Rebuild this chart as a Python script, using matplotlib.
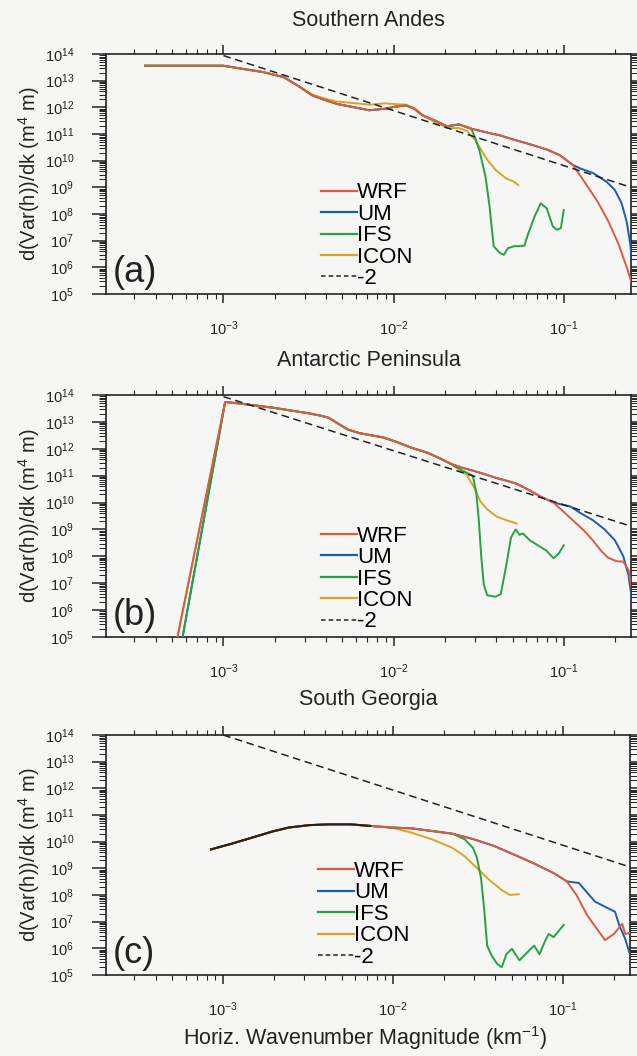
import numpy as np
import matplotlib
matplotlib.use('Agg')
import matplotlib.pyplot as plt
from matplotlib.lines import Line2D
from matplotlib.ticker import LogLocator, NullFormatter

plt.rcParams['font.family'] = ['Liberation Sans', 'DejaVu Sans']
plt.rcParams['mathtext.fontset'] = 'custom'
plt.rcParams['mathtext.rm'] = 'Liberation Sans'
plt.rcParams['mathtext.it'] = 'Liberation Sans:italic'
plt.rcParams['mathtext.bf'] = 'Liberation Sans:bold'

models = ['WRF', 'UM', 'IFS', 'ICON']
colors = {'WRF': '#dc5a45', 'UM': '#1d5caf', 'IFS': '#27a046', 'ICON': '#d8a42a'}

# all values are log10: wavenumber k (km^-1) and d(Var(h))/dk (m^4 m)

# (a) Southern Andes
a_shared_k = [-3.46, -3.0, -2.885, -2.765, -2.645, -2.55, -2.478, -2.406, -2.334,
              -2.238, -2.143, -2.047, -1.987, -1.927, -1.879, -1.831, -1.759,
              -1.687, -1.615, -1.544]
a_shared_s = [13.56, 13.56, 13.44, 13.32, 13.13, 12.76, 12.45, 12.28, 12.13,
              12.01, 11.89, 11.95, 12.03, 12.07, 11.95, 11.70, 11.51,
              11.29, 11.36, 11.20]
a_hires_k = [-1.448, -1.376, -1.30, -1.18, -1.10, -1.024, -0.947]
a_hires_s = [11.05, 10.95, 10.80, 10.58, 10.42, 10.21, 9.84]
a_wrf_k = [-0.918, -0.859, -0.80, -0.74, -0.68, -0.63, -0.59]
a_wrf_s = [9.58, 9.02, 8.45, 7.75, 6.9, 6.0, 5.2]
a_um_k = [-0.90, -0.829, -0.747, -0.70, -0.66, -0.63, -0.61, -0.595, -0.585]
a_um_s = [9.70, 9.54, 9.2, 8.9, 8.4, 7.7, 6.9, 6.0, 5.0]
a_ifs_k = [-1.52, -1.496, -1.46, -1.436, -1.412, -1.376, -1.352, -1.328, -1.292,
           -1.256, -1.232, -1.208, -1.172, -1.136, -1.10, -1.064, -1.04, -1.017, -1.0]
a_ifs_s = [10.85, 10.39, 9.4, 8.28, 6.79, 6.54, 6.47, 6.72, 6.79,
           6.80, 6.81, 7.28, 7.9, 8.4, 8.21, 7.53, 7.41, 7.47, 8.15]
a_icon_k = [-2.478, -2.406, -2.334, -2.238, -2.143, -2.047, -1.987, -1.927, -1.879,
            -1.831, -1.759, -1.687, -1.615, -1.568, -1.52, -1.484, -1.448, -1.40,
            -1.34, -1.293, -1.268]
a_icon_s = [12.48, 12.33, 12.22, 12.16, 12.10, 12.15, 12.12, 12.10, 11.98,
            11.72, 11.45, 11.23, 11.22, 11.11, 10.77, 10.39, 10.02, 9.65,
            9.34, 9.21, 9.09]
a_ref_k = [-3.0, -0.605]
a_ref_s = [13.94, 9.0]

# (b) Antarctic Peninsula
b_rise_k = [-3.27, -2.99]
b_rise_um_k = [-3.24, -2.99]
b_rise_s = [5.0, 13.74]
b_shared_k = [-2.90, -2.80, -2.70, -2.60, -2.50, -2.42, -2.38, -2.33, -2.27,
              -2.20, -2.13, -2.06, -1.98, -1.90, -1.80, -1.72, -1.667]
b_shared_s = [13.68, 13.60, 13.52, 13.42, 13.32, 13.22, 13.15, 12.95, 12.72,
              12.58, 12.50, 12.42, 12.25, 12.05, 11.85, 11.62, 11.45]
b_hires_k = [-1.60, -1.53, -1.472, -1.40, -1.34, -1.277, -1.20, -1.136, -1.06]
b_hires_s = [11.30, 11.18, 11.07, 10.92, 10.82, 10.70, 10.45, 10.22, 10.0]
b_wrf_k = [-1.00, -0.94, -0.88, -0.83, -0.78, -0.74, -0.69, -0.65, -0.62, -0.60,
           -0.58, -0.565]
b_wrf_s = [9.65, 9.30, 8.95, 8.6, 8.2, 7.95, 7.82, 7.80, 7.5, 6.8, 5.9, 5.0]
b_um_k = [-0.96, -0.90, -0.83, -0.76, -0.70, -0.65, -0.62, -0.60, -0.585]
b_um_s = [9.85, 9.6, 9.35, 9.0, 8.6, 8.0, 7.3, 6.4, 5.0]
b_ifs_k = [-1.60, -1.56, -1.535, -1.515, -1.50, -1.485, -1.47, -1.45, -1.40, -1.37,
           -1.34, -1.31, -1.283, -1.26, -1.24, -1.20, -1.15, -1.10, -1.06, -1.03, -1.0]
b_ifs_s = [11.2, 11.08, 11.0, 10.4, 9.4, 8.0, 6.95, 6.55, 6.5, 6.6,
           7.6, 8.7, 9.0, 8.8, 8.85, 8.6, 8.4, 8.2, 7.93, 8.1, 8.41]
b_icon_k = [-1.572, -1.53, -1.49, -1.45, -1.395, -1.34, -1.277]
b_icon_s = [11.04, 10.6, 10.04, 9.75, 9.48, 9.35, 9.22]
b_ref_k = [-3.0, -0.605]
b_ref_s = [13.94, 9.12]

# (c) South Georgia
c_shared_k = [-3.072, -2.952, -2.831, -2.711, -2.614, -2.494, -2.373, -2.253,
              -2.133, -2.012]
c_shared_s = [9.71, 9.92, 10.15, 10.38, 10.53, 10.62, 10.65, 10.65, 10.59, 10.53]
c_obs_k = c_shared_k[:9]
c_obs_s = c_shared_s[:9]
c_mid_k = [-1.892, -1.771, -1.651]
c_mid_s = [10.50, 10.40, 10.30]
c_hires_k = [-1.53, -1.41, -1.289, -1.169, -1.048, -0.977]
c_hires_s = [10.10, 9.85, 9.52, 9.18, 8.80, 8.51]
c_wrf_k = [-0.92, -0.859, -0.80, -0.752, -0.699, -0.651, -0.633, -0.58]
c_wrf_s = [8.0, 7.26, 6.73, 6.31, 6.54, 6.92, 6.54, 6.61]
c_um_k = [-0.906, -0.811, -0.693, -0.669, -0.633, -0.604, -0.586]
c_um_s = [8.45, 7.75, 7.37, 6.88, 6.35, 5.74, 5.0]
c_ifs_k = [-1.578, -1.53, -1.506, -1.482, -1.464, -1.446, -1.42, -1.386, -1.36,
           -1.333, -1.30, -1.256, -1.197, -1.169, -1.138, -1.108, -1.084, -1.055, -0.995]
c_ifs_s = [10.09, 9.77, 9.39, 8.63, 7.5, 6.1, 5.73, 5.41, 5.29,
           5.78, 5.98, 5.55, 5.93, 6.1, 5.78, 6.23, 6.54, 6.42, 6.88]
c_icon_k = [-1.892, -1.771, -1.651, -1.578, -1.506, -1.434, -1.361, -1.313, -1.26]
c_icon_s = [10.34, 10.09, 9.77, 9.45, 9.01, 8.57, 8.19, 8.0, 8.03]
c_ref_k = [-3.0, -0.605]
c_ref_s = [14.0, 9.05]


def join(*parts):
    out = []
    for p in parts:
        out += list(p)
    return np.array(out)


panels = [
    dict(title='Southern Andes', tag='(a)', legend_xy=(0.41, 0.465),
         curves={
             'WRF': (join(a_shared_k, a_hires_k, a_wrf_k), join(a_shared_s, a_hires_s, a_wrf_s)),
             'UM': (join(a_shared_k, a_hires_k, a_um_k), join(a_shared_s, a_hires_s, a_um_s)),
             'IFS': (join(a_shared_k, a_ifs_k), join(a_shared_s, a_ifs_s)),
             'ICON': (join(a_shared_k[:6], a_icon_k), join(a_shared_s[:6], a_icon_s)),
         }, ref=(a_ref_k, a_ref_s), black=None),
    dict(title='Antarctic Peninsula', tag='(b)', legend_xy=(0.41, 0.46),
         curves={
             'WRF': (join(b_rise_k, b_shared_k, b_hires_k, b_wrf_k),
                     join(b_rise_s, b_shared_s, b_hires_s, b_wrf_s)),
             'UM': (join(b_rise_um_k, b_shared_k, b_hires_k, b_um_k),
                    join(b_rise_s, b_shared_s, b_hires_s, b_um_s)),
             'IFS': (join(b_rise_um_k, b_shared_k, b_ifs_k), join(b_rise_s, b_shared_s, b_ifs_s)),
             'ICON': (join(b_rise_k, b_shared_k, b_icon_k), join(b_rise_s, b_shared_s, b_icon_s)),
         }, ref=(b_ref_k, b_ref_s), black=None),
    dict(title='South Georgia', tag='(c)', legend_xy=(0.405, 0.475),
         curves={
             'WRF': (join(c_shared_k, c_mid_k, c_hires_k, c_wrf_k),
                     join(c_shared_s, c_mid_s, c_hires_s, c_wrf_s)),
             'UM': (join(c_shared_k, c_mid_k, c_hires_k, c_um_k),
                    join(c_shared_s, c_mid_s, c_hires_s, c_um_s)),
             'IFS': (join(c_shared_k, c_mid_k, c_ifs_k), join(c_shared_s, c_mid_s, c_ifs_s)),
             'ICON': (join(c_shared_k, c_icon_k), join(c_shared_s, c_icon_s)),
         }, ref=(c_ref_k, c_ref_s), black=(c_obs_k, c_obs_s)),
]

W, H = 637, 1056
fig = plt.figure(figsize=(W / 100, H / 100), dpi=100)
fig.patch.set_facecolor('#f6f6f4')

# axes boxes in pixels: left, top, right, bottom
boxes = [(106, 54, 631, 294), (106, 395, 631, 637), (106, 735, 630, 975)]
title_y = [20, 361, 700]

for p, (l, t, r, b), ty in zip(panels, boxes, title_y):
    ax = fig.add_axes([l / W, 1 - b / H, (r - l) / W, (b - t) / H])
    ax.set_facecolor('none')
    for name in ['UM', 'ICON', 'IFS', 'WRF']:
        k, s = p['curves'][name]
        ax.plot(10 ** k, 10 ** s, color=colors[name], lw=1.4, zorder=3)
    if p['black'] is not None:
        k, s = p['black']
        ax.plot(10 ** np.array(k), 10 ** np.array(s), color='#2a2018', lw=1.5, zorder=4)
    rk, rs = p['ref']
    ax.plot(10 ** np.array(rk), 10 ** np.array(rs), color='#222222', lw=1.1,
            dashes=(5, 3), zorder=5)

    ax.set_xscale('log')
    ax.set_yscale('log')
    ax.set_xlim(10 ** -3.69, 10 ** -0.605)
    ax.set_ylim(1e5, 1e14)

    ax.yaxis.set_major_locator(LogLocator(base=10, numticks=20))
    ax.yaxis.set_minor_locator(LogLocator(base=10, subs=np.arange(2, 10), numticks=100))
    ax.yaxis.set_minor_formatter(NullFormatter())
    ax.xaxis.set_major_locator(LogLocator(base=10, numticks=20))
    ax.xaxis.set_minor_locator(LogLocator(base=10, subs=np.arange(2, 10), numticks=100))
    ax.xaxis.set_minor_formatter(NullFormatter())

    ax.tick_params(which='both', direction='out', top=True, right=True,
                   labeltop=False, labelright=False, colors='#222222', labelsize=10.5)
    ax.tick_params(axis='y', which='major', length=10, width=1.1, pad=13)
    ax.tick_params(axis='y', which='minor', length=5, width=0.7)
    ax.tick_params(axis='x', which='major', length=6.5, width=1.1, pad=12)
    ax.tick_params(axis='x', which='minor', length=3.5, width=0.8)
    for sp in ax.spines.values():
        sp.set_linewidth(1.2)
        sp.set_color('#222222')

    handles = [Line2D([0], [0], color=colors[m], lw=1.6) for m in models]
    handles.append(Line2D([0], [0], color='#222222', lw=1.1, dashes=(3, 2)))
    ax.legend(handles, models + ['-2'], loc='upper left', bbox_to_anchor=p['legend_xy'],
              frameon=False, fontsize=16, handlelength=1.6, handletextpad=0.0,
              labelspacing=0.02, borderpad=0, borderaxespad=0)

    ax.text(0.012, 0.015, p['tag'], transform=ax.transAxes, fontsize=26,
            ha='left', va='bottom', color='#222222')

    fig.text((l + r) / 2 / W, 1 - ty / H, p['title'], ha='center', va='center',
             fontsize=15.5, color='#222222')
    fig.text(29 / W, 1 - (t + b) / 2 / H, 'd(Var(h))/dk (m$^4$ m)', rotation=90,
             ha='center', va='center', fontsize=14.5, color='#222222')

fig.text(365 / W, 1 - 1038 / H, 'Horiz. Wavenumber Magnitude (km$^{-1}$)',
         ha='center', va='center', fontsize=15.5, color='#222222')

fig.savefig('out.png', dpi=100, facecolor=fig.get_facecolor())
